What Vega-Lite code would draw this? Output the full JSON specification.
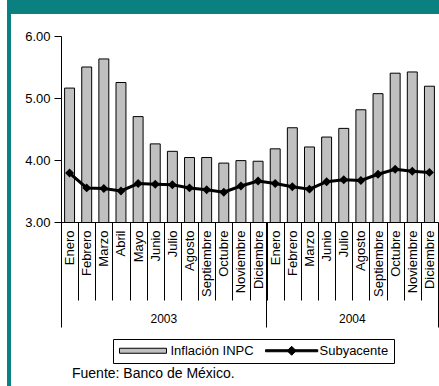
{
  "$schema": "https://vega.github.io/schema/vega-lite/v6.json",
  "padding": {"left": 7, "top": 0, "right": 0, "bottom": 0},
  "background": "white",
  "spacing": 0,
  "bounds": "flush",
  "config": {
    "view": {"stroke": null},
    "font": "Liberation Sans",
    "axis": {
      "domainColor": "black",
      "tickColor": "black",
      "labelColor": "black",
      "labelFont": "Liberation Sans",
      "grid": false,
      "title": null
    },
    "legend": {
      "orient": "none",
      "legendX": 106,
      "legendY": 339,
      "direction": "horizontal",
      "strokeColor": "black",
      "padding": 5,
      "columnPadding": 9,
      "labelFont": "Liberation Sans",
      "labelFontSize": 13,
      "labelColor": "black",
      "labelOffset": 39.5,
      "symbolSize": 100,
      "symbolOpacity": 1,
      "symbolStrokeColor": "black",
      "symbolStrokeWidth": 1
    }
  },
  "datasets": {
    "inflacion": [
      {"periodo": "Enero 2003", "inpc": 5.16, "sub": 3.79},
      {"periodo": "Febrero 2003", "inpc": 5.50, "sub": 3.55},
      {"periodo": "Marzo 2003", "inpc": 5.63, "sub": 3.54},
      {"periodo": "Abril 2003", "inpc": 5.25, "sub": 3.50},
      {"periodo": "Mayo 2003", "inpc": 4.70, "sub": 3.62},
      {"periodo": "Junio 2003", "inpc": 4.26, "sub": 3.61},
      {"periodo": "Julio 2003", "inpc": 4.14, "sub": 3.60},
      {"periodo": "Agosto 2003", "inpc": 4.04, "sub": 3.55},
      {"periodo": "Septiembre 2003", "inpc": 4.04, "sub": 3.52},
      {"periodo": "Octubre 2003", "inpc": 3.95, "sub": 3.48},
      {"periodo": "Noviembre 2003", "inpc": 3.99, "sub": 3.58},
      {"periodo": "Diciembre 2003", "inpc": 3.98, "sub": 3.66},
      {"periodo": "Enero 2004", "inpc": 4.18, "sub": 3.62},
      {"periodo": "Febrero 2004", "inpc": 4.52, "sub": 3.57},
      {"periodo": "Marzo 2004", "inpc": 4.21, "sub": 3.53},
      {"periodo": "Junio 2004", "inpc": 4.37, "sub": 3.65},
      {"periodo": "Julio 2004", "inpc": 4.51, "sub": 3.68},
      {"periodo": "Agosto 2004", "inpc": 4.81, "sub": 3.67},
      {"periodo": "Septiembre 2004", "inpc": 5.07, "sub": 3.77},
      {"periodo": "Octubre 2004", "inpc": 5.40, "sub": 3.85},
      {"periodo": "Noviembre 2004", "inpc": 5.42, "sub": 3.82},
      {"periodo": "Diciembre 2004", "inpc": 5.19, "sub": 3.80}
    ]
  },
  "vconcat": [
    {
      "width": 432, "height": 14,
      "view": {"fill": "#0b8080", "stroke": null},
      "data": {"values": []},
      "mark": "rect",
      "encoding": {}
    },
    {
      "width": 4, "height": 22,
      "view": {"fill": "#0b8080", "stroke": null},
      "data": {"values": []},
      "mark": "rect",
      "encoding": {}
    },
    {
      "spacing": 50,
      "bounds": "flush",
      "hconcat": [
        {
          "width": 4, "height": 350,
          "view": {"fill": "#0b8080", "stroke": null},
          "data": {"values": []},
          "mark": "rect",
          "encoding": {}
        },
        {
          "width": 377,
          "height": 186,
          "data": {"name": "inflacion"},
          "title": {
            "text": "Fuente: Banco de México.",
            "orient": "bottom",
            "anchor": "start",
            "frame": "group",
            "dx": 11,
            "offset": 39,
            "font": "Liberation Sans",
            "fontSize": 14,
            "fontWeight": "normal",
            "color": "black"
          },
          "resolve": {"axis": {"x": "independent"}},
          "layer": [
            {
              "mark": {"type": "bar", "stroke": "black", "strokeWidth": 1, "width": {"band": 0.58}, "clip": true},
              "encoding": {
                "x": {
                  "field": "periodo", "type": "nominal", "sort": null,
                  "scale": {"paddingInner": 0, "paddingOuter": 0},
                  "axis": {
                    "orient": "bottom",
                    "tickBand": "extent",
                    "tickSize": 78,
                    "labelAngle": 270,
                    "labelAlign": "right",
                    "labelBaseline": "middle",
                    "labelPadding": -70,
                    "labelFontSize": 13,
                    "labelExpr": "isString(datum.value) ? split(datum.value, ' ')[0] : ''",
                    "labelOverlap": false,
                    "labelBound": false,
                    "domain": true,
                    "title": null
                  }
                },
                "y": {
                  "field": "inpc", "type": "quantitative", "title": null,
                  "scale": {"domain": [3, 6], "zero": false, "nice": false},
                  "axis": {
                    "values": [3, 3.5, 4, 4.5, 5, 5.5, 6],
                    "format": ".2f",
                    "tickSize": 7,
                    "labelPadding": 4,
                    "labelFontSize": 13,
                    "labelOverlap": false,
                    "labelFlush": false
                  }
                },
                "color": {
                  "datum": "Inflación INPC",
                  "scale": {"domain": ["Inflación INPC", "Subyacente"], "range": ["#c0c0c0", "black"]},
                  "legend": {
                    "title": null,
                    "encode": {"symbols": {"update": {"stroke": {"value": "black"}, "strokeWidth": {"value": 1}}}}
                  }
                }
              }
            },
            {
              "mark": {"type": "line", "strokeWidth": 3, "color": "black"},
              "encoding": {
                "x": {
                  "field": "periodo", "type": "nominal", "sort": null,
                  "axis": {
                    "orient": "bottom",
                    "values": ["Enero 2003", "Julio 2003", "Enero 2004", "Agosto 2004"],
                    "bandPosition": 0,
                    "tickSize": 105,
                    "tickOpacity": {"condition": {"test": "indexof(datum.value, 'Enero') === 0", "value": 1}, "value": 0},
                    "labelExpr": "datum.value === 'Julio 2003' ? '2003' : datum.value === 'Agosto 2004' ? '2004' : ''",
                    "labelAngle": 0,
                    "labelAlign": "center",
                    "labelBaseline": "top",
                    "labelPadding": -14,
                    "labelOffset": -8.57,
                    "labelFontSize": 12,
                    "labelOverlap": false,
                    "domain": false,
                    "title": null
                  }
                },
                "y": {"field": "sub", "type": "quantitative", "title": null, "scale": {"domain": [3, 6], "zero": false, "nice": false}}
              }
            },
            {
              "mark": {"type": "point", "shape": "diamond", "filled": true, "size": 80, "color": "black", "opacity": 1},
              "encoding": {
                "x": {
                  "field": "periodo", "type": "nominal", "sort": null,
                  "axis": {
                    "orient": "bottom",
                    "values": ["Diciembre 2004"],
                    "bandPosition": 1,
                    "tickSize": 105,
                    "labels": false,
                    "domain": false,
                    "title": null
                  }
                },
                "y": {"field": "sub", "type": "quantitative", "title": null, "scale": {"domain": [3, 6], "zero": false, "nice": false}}
              }
            },
            {
              "mark": {"type": "point", "filled": true, "opacity": 0},
              "encoding": {
                "x": {"field": "periodo", "type": "nominal", "sort": null, "axis": null},
                "y": {"field": "sub", "type": "quantitative", "title": null, "scale": {"domain": [3, 6], "zero": false, "nice": false}},
                "color": {"datum": "Subyacente"},
                "shape": {
                  "datum": "Subyacente",
                  "scale": {
                    "domain": ["Inflación INPC", "Subyacente"],
                    "range": [
                      "M-1,-0.5H8.4V0.5H-1Z",
                      "M-1.6,-0.2H8.85V0.2H-1.6ZM3.63,-0.9L4.53,0L3.63,0.9L2.73,0Z"
                    ]
                  },
                  "legend": {"title": null}
                }
              }
            }
          ]
        }
      ]
    }
  ]
}
